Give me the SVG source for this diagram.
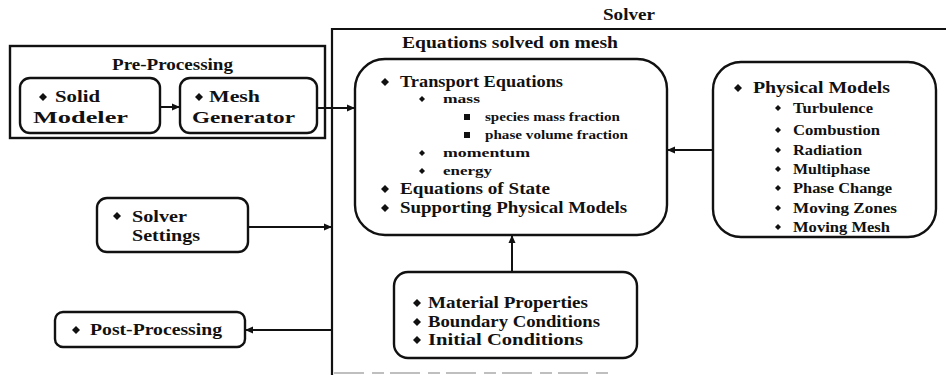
<svg xmlns="http://www.w3.org/2000/svg" width="946" height="377" viewBox="0 0 946 377">
<defs>
<style>
.box{fill:#fff;stroke:#111;stroke-width:2.4}
.t{font-family:"Liberation Serif","Times New Roman",serif;font-weight:bold;fill:#111}
.title{font-size:17px}
.main{font-size:16px}
.sub{font-size:13px}
.pm{font-size:14px}
.conn{stroke:#111;stroke-width:2;fill:none}
</style>
<pattern id="mesh" width="9" height="7" patternUnits="userSpaceOnUse">
<rect width="9" height="7" fill="#fff"/>
<rect x="1" y="2" width="1" height="1" fill="#777"/>
<rect x="5" y="5" width="1" height="1" fill="#8a8a8a"/>
<rect x="7" y="1" width="1" height="1" fill="#a0a0a0"/>
<rect x="3" y="0" width="1" height="2" fill="#b8b8b8"/>
</pattern>
<marker id="arr" markerWidth="8" markerHeight="8" refX="7" refY="4" orient="auto" markerUnits="userSpaceOnUse">
<path d="M0,0.5 L8,4 L0,7.5 Z" fill="#111"/>
</marker>
<path id="dia" d="M0,-4 L4,0 L0,4 L-4,0 Z" fill="#111"/>
<path id="dot" d="M0,-3 L3,0 L0,3 L-3,0 Z" fill="#111"/>
<rect id="sq" x="-3" y="-3" width="6" height="6" fill="#111"/>
</defs>
<rect width="946" height="377" fill="#fff"/>

<g id="solver-frame">
<path d="M332,375 V29 H946" fill="none" stroke="#111" stroke-width="2.2"/>
<path d="M334,373 H610" fill="none" stroke="#aaa" stroke-width="1.5" stroke-dasharray="30,8,12,6"/>
<text class="t title" x="603" y="20" textLength="52" lengthAdjust="spacingAndGlyphs">Solver</text>
</g>

<g id="pre-processing">
<rect class="box" x="10" y="46" width="315" height="92" fill="#fff"/>
<text class="t title" x="112" y="70" textLength="121" lengthAdjust="spacingAndGlyphs">Pre-Processing</text>
</g>

<g id="solid-modeler">
<rect class="box" x="20" y="78" width="140" height="55" rx="10"/>
<use href="#dia" x="43" y="97"/>
<text class="t main" x="55" y="102" textLength="45" lengthAdjust="spacingAndGlyphs">Solid</text>
<text class="t main" x="33" y="123" textLength="95" lengthAdjust="spacingAndGlyphs">Modeler</text>
</g>

<g id="mesh-generator">
<rect class="box" x="180" y="78" width="137" height="55" rx="10"/>
<use href="#dia" x="199" y="97"/>
<text class="t main" x="209" y="102" textLength="51" lengthAdjust="spacingAndGlyphs">Mesh</text>
<text class="t main" x="192" y="123" textLength="103" lengthAdjust="spacingAndGlyphs">Generator</text>
</g>

<g id="equations">
<text class="t title" x="402" y="48" textLength="216" lengthAdjust="spacingAndGlyphs">Equations solved on mesh</text>
<rect class="box" x="355" y="59" width="312" height="176" rx="30" fill="url(#mesh)"/>
<use href="#dia" x="385" y="82"/>
<text class="t main" x="400" y="87" textLength="163" lengthAdjust="spacingAndGlyphs">Transport Equations</text>
<use href="#dot" x="422" y="99"/>
<text class="t sub" x="443" y="103" textLength="37" lengthAdjust="spacingAndGlyphs">mass</text>
<use href="#sq" x="467" y="117"/>
<text class="t sub" x="485" y="121" textLength="135" lengthAdjust="spacingAndGlyphs">species mass fraction</text>
<use href="#sq" x="467" y="135"/>
<text class="t sub" x="485" y="139" textLength="143" lengthAdjust="spacingAndGlyphs">phase volume fraction</text>
<use href="#dot" x="422" y="153"/>
<text class="t sub" x="443" y="157" textLength="87" lengthAdjust="spacingAndGlyphs">momentum</text>
<use href="#dot" x="422" y="171"/>
<text class="t sub" x="443" y="175" textLength="49" lengthAdjust="spacingAndGlyphs">energy</text>
<use href="#dia" x="385" y="189"/>
<text class="t main" x="400" y="194" textLength="150" lengthAdjust="spacingAndGlyphs">Equations of State</text>
<use href="#dia" x="385" y="208"/>
<text class="t main" x="400" y="213" textLength="227" lengthAdjust="spacingAndGlyphs">Supporting Physical Models</text>
</g>

<g id="physical-models">
<rect class="box" x="713" y="62" width="223" height="175" rx="28"/>
<use href="#dia" x="738" y="88"/>
<text class="t main" x="753" y="93" textLength="137" lengthAdjust="spacingAndGlyphs">Physical Models</text>
<use href="#dot" x="778" y="108"/>
<text class="t pm" x="793" y="113" textLength="80" lengthAdjust="spacingAndGlyphs">Turbulence</text>
<use href="#dot" x="778" y="130"/>
<text class="t pm" x="793" y="135" textLength="87" lengthAdjust="spacingAndGlyphs">Combustion</text>
<use href="#dot" x="778" y="150"/>
<text class="t pm" x="793" y="155" textLength="69" lengthAdjust="spacingAndGlyphs">Radiation</text>
<use href="#dot" x="778" y="169"/>
<text class="t pm" x="793" y="174" textLength="77" lengthAdjust="spacingAndGlyphs">Multiphase</text>
<use href="#dot" x="778" y="188"/>
<text class="t pm" x="793" y="193" textLength="99" lengthAdjust="spacingAndGlyphs">Phase Change</text>
<use href="#dot" x="778" y="208"/>
<text class="t pm" x="793" y="213" textLength="104" lengthAdjust="spacingAndGlyphs">Moving Zones</text>
<use href="#dot" x="778" y="227"/>
<text class="t pm" x="793" y="232" textLength="97" lengthAdjust="spacingAndGlyphs">Moving Mesh</text>
</g>

<g id="solver-settings">
<rect class="box" x="97" y="198" width="151" height="54" rx="10"/>
<use href="#dia" x="117" y="216"/>
<text class="t main" x="132" y="222" textLength="55" lengthAdjust="spacingAndGlyphs">Solver</text>
<text class="t main" x="132" y="241" textLength="68" lengthAdjust="spacingAndGlyphs">Settings</text>
</g>

<g id="post-processing">
<rect class="box" x="55" y="312" width="190" height="35" rx="8"/>
<use href="#dia" x="76" y="330"/>
<text class="t main" x="90" y="335" textLength="132" lengthAdjust="spacingAndGlyphs">Post-Processing</text>
</g>

<g id="conditions">
<rect class="box" x="394" y="272" width="243" height="86" rx="14"/>
<use href="#dia" x="417" y="303"/>
<text class="t main" x="428" y="308" textLength="160" lengthAdjust="spacingAndGlyphs">Material Properties</text>
<use href="#dia" x="417" y="322"/>
<text class="t main" x="428" y="327" textLength="172" lengthAdjust="spacingAndGlyphs">Boundary Conditions</text>
<use href="#dia" x="417" y="340"/>
<text class="t main" x="428" y="345" textLength="155" lengthAdjust="spacingAndGlyphs">Initial Conditions</text>
</g>

<g id="connectors">
<line class="conn" x1="161" y1="107" x2="179" y2="107" marker-end="url(#arr)"/>
<line class="conn" x1="318" y1="108" x2="354" y2="108" marker-end="url(#arr)"/>
<line class="conn" x1="249" y1="227" x2="331" y2="227" marker-end="url(#arr)"/>
<line class="conn" x1="332" y1="330" x2="246" y2="330" marker-end="url(#arr)"/>
<line class="conn" x1="712" y1="150" x2="668" y2="150" marker-end="url(#arr)"/>
<line class="conn" x1="512" y1="271" x2="512" y2="236" marker-end="url(#arr)"/>
</g>
</svg>
